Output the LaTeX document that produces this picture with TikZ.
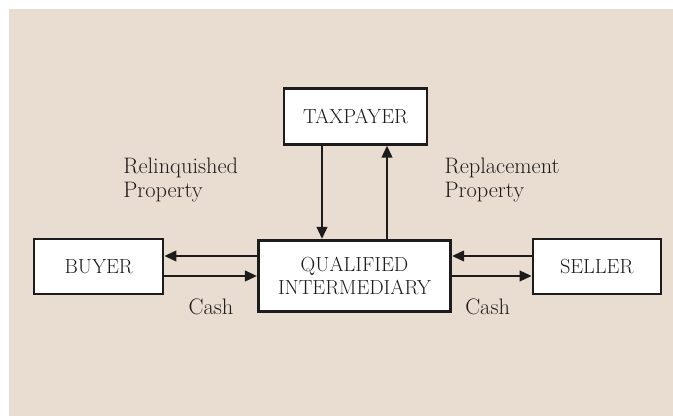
\documentclass[tikz,border=0pt]{standalone}
\usetikzlibrary{arrows.meta,positioning}
\definecolor{exSand}{HTML}{E9DDD1}
\definecolor{exInk} {HTML}{1E1B1C}

\begin{document}
\begin{tikzpicture}[x=0.75pt,y=0.75pt,
      font=\fontsize{15.3}{17.5}\selectfont,text=exInk,
      party/.style={draw=exInk,fill=white,line width=1.7pt,align=center,
                    inner sep=0pt},
      flow/.style={draw=exInk,line width=1.5pt,
                   -{Triangle[length=9pt,width=8pt]}},
      note/.style={anchor=base west,align=left,inner sep=0pt,
                   font=\fontsize{16.8}{18}\selectfont}]

    \useasboundingbox (0,0) rectangle (673,416);
    \fill[exSand] (9,0) rectangle (673,407);

    % the four parties
    \node[party,minimum width=107.3pt,minimum height=42pt] (tax) at (355.5,299.5) {TAXPAYER};
    \node[party,line width=2.4pt,minimum width=144pt,minimum height=53.3pt] (qi) at (354.5,140)
         {QUALIFIED\\INTERMEDIARY};
    \node[party,minimum width=96.8pt,minimum height=41.3pt] (buyer) at (98.7,149.3) {BUYER};
    \node[party,minimum width=96pt,minimum height=41.3pt] (seller) at (596.7,149.3) {SELLER};

    % property goes down and comes back up
    \coordinate (down) at (322,0);
    \coordinate (up)   at (387,0);
    \draw[flow] (tax.south -| down) -- (qi.north -| down);
    \draw[flow] (qi.north -| up) -- (tax.south -| up);

    % property out, cash in, on both sides
    \coordinate (hi) at (0,160);
    \coordinate (lo) at (0,140);
    \draw[flow] (qi.west |- hi) -- (buyer.east |- hi);
    \draw[flow] (buyer.east |- lo) -- (qi.west |- lo);
    \draw[flow] (seller.west |- hi) -- (qi.east |- hi);
    \draw[flow] (qi.east |- lo) -- (seller.west |- lo);

    \node[note] (rel) at (123,242.7) {Relinquished};
    \node[note,below=17.8pt of rel.base west,anchor=base west] (relp) {Property};
    \node[note] (rep) at (444.3,242.7) {Replacement};
    \node[note,below=17.8pt of rep.base west,anchor=base west] (repp) {Property};
    \node[note] (cashb) at (188.3,101) {Cash};
    \node[note] (cashs) at (465,101) {Cash};
  \end{tikzpicture}
\end{document}
